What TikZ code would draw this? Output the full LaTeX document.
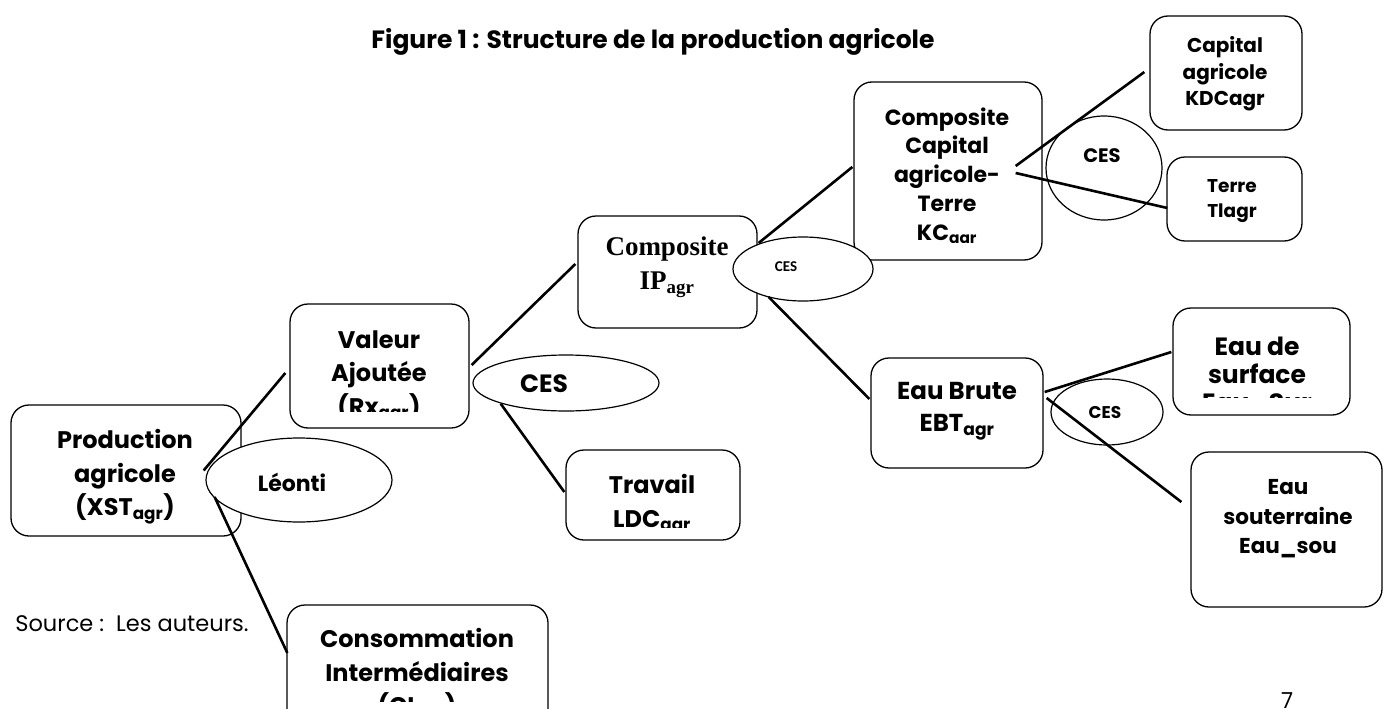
\documentclass[tikz,border=0pt]{standalone}
\usepackage{fontspec}
\setmainfont{Poppins}
\newfontfamily\serifbold{Liberation Serif}
\newfontfamily\calibri{Carlito}
\usetikzlibrary{shapes.geometric}
\definecolor{ink}{HTML}{000000}
\tikzset{
  box/.style  ={draw=ink, fill=white, line width=1.3pt,
                rounded corners=18pt, inner sep=0pt},
  ell/.style  ={ellipse, draw=ink, fill=white, line width=1.2pt,
                inner sep=0pt},
  lbl/.style  ={align=center, inner sep=0pt,
                font=\bfseries\fontsize{24}{33.5}\selectfont},
  small/.style={align=center, inner sep=0pt,
                font=\bfseries\fontsize{20}{26.5}\selectfont},
  link/.style ={draw=ink, line width=2.6pt},
}

\begin{document}
\begin{tikzpicture}[x=1pt,y=-1pt]
  \useasboundingbox (0,0) rectangle (1384,709);
  \clip (0,0) rectangle (1384,709);

  \node[lbl, font=\bfseries\fontsize{25}{28}\selectfont] (title) at (653,42)
    {Figure 1 : Structure de la production agricole};

  % frames
  \node[box, minimum width=230pt, minimum height=131pt] (pa) at (126,470.5) {};
  \node[box, minimum width=179pt, minimum height=124pt] (va) at (379.5,366) {};
  \node[box, minimum width=174pt, minimum height=90pt]  (tr) at (653,495) {};
  \node[box, minimum width=261pt, minimum height=140pt] (ci) at (417.5,675) {};
  \node[box, minimum width=179pt, minimum height=112pt] (ip) at (667.5,272) {};
  \node[box, minimum width=188pt, minimum height=178pt] (kc) at (948,171) {};
  \node[box, minimum width=152pt, minimum height=114pt] (kd) at (1226,73) {};
  \node[box, minimum width=135pt, minimum height=84pt]  (tl) at (1234.5,199) {};
  \node[box, minimum width=172pt, minimum height=110pt] (eb) at (957,413) {};
  \node[box, minimum width=177pt, minimum height=107pt] (es) at (1261.5,361.5) {};
  \node[box, minimum width=191pt, minimum height=155pt] (so) at (1286.5,529.5) {};

  % CES / Leontief ellipses
  \node[ell, minimum width=186pt, minimum height=84pt]  (leo)   at (299,480) {};
  \node[ell, minimum width=186pt, minimum height=56pt]  (cesva) at (566,383) {};
  \node[ell, minimum width=140pt, minimum height=64pt]  (cesip) at (803,269) {};
  \node[ell, minimum width=116pt, minimum height=104pt] (ceskc) at (1104,168) {};
  \node[ell, minimum width=112pt, minimum height=66pt]  (face)  at (1107,412) {};

  % links
  \draw[link] ([shift={(-38,0)}]pa.east) -- ([shift={(-4,7)}]va.west);
  \draw[link] ([shift={(-27,26.5)}]pa.east) -- ([shift={(1,-22)}]ci.west);
  \draw[link] ([shift={(2,-1)}]va.east) -- ([shift={(-2,-8)}]ip.west);
  \draw[link] ([shift={(31,-25)}]va.south east) -- ([shift={(-1,-3)}]tr.west);
  \draw[link] ([shift={(1,-29)}]ip.east) -- ([shift={(-1,-4)}]kc.west);
  \draw[link] ([shift={(11,25)}]ip.east) -- ([shift={(-1,-14)}]eb.west);
  \draw[link] ([shift={(-27,-5)}]kc.east) -- ([shift={(-5,-1)}]kd.west);
  \draw[link] ([shift={(-27,2)}]kc.east) -- ([shift={(1,9)}]tl.west);
  \draw[link] ([shift={(1,-21)}]eb.east) -- ([shift={(-1,-9.5)}]es.west);
  \draw[link] ([shift={(3,-15)}]eb.east) -- ([shift={(-9,-27.5)}]so.west);

  % texts
  \node[lbl] (pa-t) at (125,477) {Production\\agricole\\(XST\textsubscript{agr})};
  \begin{scope}
    \clip (va.north west) rectangle ([shift={(0,-17)}]va.south east);
    \node[lbl] (va-t) at (379,377) {Valeur\\Ajoutée\\(Rx\textsubscript{agr})};
  \end{scope}
  \begin{scope}
    \clip (tr.north west) rectangle ([shift={(0,-13)}]tr.south east);
    \node[lbl] (tr-t) at (652,505) {Travail\\LDC\textsubscript{agr}};
  \end{scope}
  \begin{scope}
    \clip (ci.north west) rectangle ([shift={(0,-44)}]ci.south east);
    \node[lbl] (ci-t) at (417,676)
      {Consommation\\Intermédiaires\\(CI\textsubscript{agr})};
  \end{scope}
  \node[lbl, font=\serifbold\bfseries\fontsize{27}{34}\selectfont] (ip-t)
    at (667,267) {Composite\\IP\textsubscript{agr}};
  \begin{scope}
    \clip (kc.north west) rectangle ([shift={(0,-18)}]kc.south east);
    \node[lbl, font=\bfseries\fontsize{22}{28.8}\selectfont] (kc-t) at (947,177.5)
      {Composite\\Capital\\agricole-\\Terre\\KC\textsubscript{agr}};
  \end{scope}
  \node[small] (kd-t) at (1225,74) {Capital\\agricole\\KDCagr};
  \node[small, font=\bfseries\fontsize{18.5}{25}\selectfont] (tl-t) at (1232,201.5)
    {Terre\\Tlagr};
  \node[lbl, font=\bfseries\fontsize{24.5}{32}\selectfont] (eb-t) at (957,411)
    {Eau Brute\\EBT\textsubscript{agr}};
  \begin{scope}
    \clip (es.north west) rectangle ([shift={(0,-18)}]es.south east);
    \node[lbl, font=\bfseries\fontsize{25}{28}\selectfont] (es-t) at (1257,377)
      {Eau de\\surface\\Eau\_Sur};
  \end{scope}
  \node[lbl, font=\bfseries\fontsize{21.5}{29.5}\selectfont] (so-t) at (1288,519)
    {Eau\\souterraine\\Eau\_sou};

  \node[lbl, font=\bfseries\fontsize{22}{26}\selectfont] (leo-t) at (292,482) {Léonti};
  \node[lbl, font=\bfseries\fontsize{25}{28}\selectfont] (cesva-t) at (544,384) {CES};
  \node[lbl, font=\calibri\bfseries\fontsize{15}{18}\selectfont] (cesip-t)
    at (786,267) {CES};
  \node[small, font=\bfseries\fontsize{19.5}{22}\selectfont] (ceskc-t)
    at (1102,156) {CES};
  \node[lbl, font=\bfseries\fontsize{17}{20}\selectfont] (face-t) at (1105,413) {CES};

  \node[font=\fontsize{22.5}{26}\selectfont] (src) at (132,624) {Source :\ \ Les auteurs.};
  \node[font=\fontsize{22}{26}\selectfont] (pg) at (1287,701) {7};
\end{tikzpicture}
\end{document}
